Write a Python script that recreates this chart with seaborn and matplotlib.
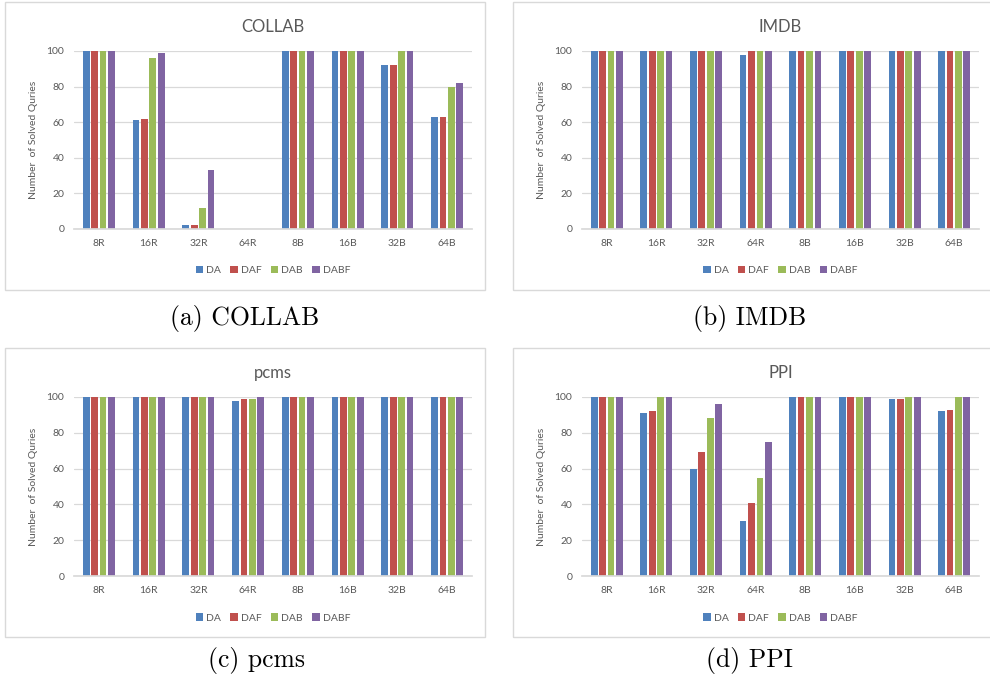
#!/usr/bin/env python3

import matplotlib
matplotlib.use("Agg")
import matplotlib.pyplot as plt
from matplotlib.patches import Rectangle
import pandas as pd
import seaborn as sns


CONFIGS = ["8R", "16R", "32R", "64R", "8B", "16B", "32B", "64B"]
METHODS = ["DA", "DAF", "DAB", "DABF"]
COLORS = ["#4F81BD", "#C0504D", "#9BBB59", "#8064A2"]

# one row per method (DA, DAF, DAB, DABF), one column per config
COLLAB = [
    [100, 61, 2, 0, 100, 100, 92, 63],
    [100, 62, 2, 0, 100, 100, 92, 63],
    [100, 96, 12, 0, 100, 100, 100, 80],
    [100, 99, 33, 0, 100, 100, 100, 82],
]
IMDB = [
    [100, 100, 100, 98, 100, 100, 100, 100],
    [100, 100, 100, 100, 100, 100, 100, 100],
    [100, 100, 100, 100, 100, 100, 100, 100],
    [100, 100, 100, 100, 100, 100, 100, 100],
]
PCMS = [
    [100, 100, 100, 98, 100, 100, 100, 100],
    [100, 100, 100, 99, 100, 100, 100, 100],
    [100, 100, 100, 99, 100, 100, 100, 100],
    [100, 100, 100, 100, 100, 100, 100, 100],
]
PPI = [
    [100, 91, 60, 31, 100, 100, 99, 92],
    [100, 92, 69, 41, 100, 100, 99, 93],
    [100, 100, 88, 55, 100, 100, 100, 100],
    [100, 100, 96, 75, 100, 100, 100, 100],
]

PANELS = [
    ("COLLAB", "(a) COLLAB", COLLAB),
    ("IMDB", "(b) IMDB", IMDB),
    ("pcms", "(c) pcms", PCMS),
    ("PPI", "(d) PPI", PPI),
]

TEXT_GRAY = "#595959"
GRID_GRAY = "#D9D9D9"

W, H = 990, 680


def to_frame(rows):
    records = []
    for method, vals in zip(METHODS, rows):
        for cfg, v in zip(CONFIGS, vals):
            records.append({"config": cfg, "method": method, "value": v})
    return pd.DataFrame(records)


def px_axes(fig, left, top, right, bottom):
    return fig.add_axes([left / W, 1 - bottom / H, (right - left) / W, (bottom - top) / H])


def draw_panel(fig, ax, title, rows):
    df = to_frame(rows)
    sns.barplot(
        data=df, x="config", y="value", hue="method",
        order=CONFIGS, hue_order=METHODS, palette=COLORS, saturation=1,
        width=0.68, gap=0.2, linewidth=0, ax=ax,
    )
    ax.set_ylim(0, 100)
    ax.set_yticks(range(0, 101, 20))
    ax.grid(axis="y", color=GRID_GRAY, linewidth=0.9)
    ax.set_axisbelow(True)
    for side in ["top", "right", "left"]:
        ax.spines[side].set_visible(False)
    ax.spines["bottom"].set_color(GRID_GRAY)
    ax.tick_params(length=0, labelsize=7.5, colors=TEXT_GRAY, pad=7)
    ax.set_xlabel("")
    ax.set_ylabel("Number  of Solved Quries", fontsize=7.5, color=TEXT_GRAY, labelpad=6)
    ax.set_title(title, fontsize=12, color=TEXT_GRAY, pad=14)
    handles, labels = ax.get_legend_handles_labels()
    ax.legend(
        handles, labels, loc="center", bbox_to_anchor=(0.5, -0.235), ncol=4,
        frameon=False, fontsize=7.5, labelcolor=TEXT_GRAY,
        handlelength=0.7, handleheight=0.7, handletextpad=0.3, columnspacing=0.9,
    )


def main():
    sns.set_theme(style="white")
    plt.rcParams["font.family"] = ["Lato", "DejaVu Sans"]

    fig = plt.figure(figsize=(W / 100, H / 100), dpi=100)

    # chart frames and plot areas in pixel coordinates
    frames = [(5, 2, 485, 290), (513, 2, 995, 290), (5, 348, 485, 637), (513, 348, 995, 637)]
    areas = [(74, 51, 472, 229), (582, 51, 979, 229), (74, 397, 472, 576), (582, 397, 979, 576)]
    captions = [(245, 318), (750, 318), (257, 660), (750, 660)]

    for (title, caption, rows), frame, area, cap in zip(PANELS, frames, areas, captions):
        x0, y0, x1, y1 = frame
        fig.add_artist(Rectangle(
            (x0 / W, 1 - y1 / H), (x1 - x0) / W, (y1 - y0) / H,
            transform=fig.transFigure, fill=False, edgecolor=GRID_GRAY, linewidth=1,
        ))
        ax = px_axes(fig, *area)
        draw_panel(fig, ax, title, rows)
        fig.text(cap[0] / W, 1 - cap[1] / H, caption, family="cmr10",
                 fontsize=18.5, ha="center", va="center", color="black")

    fig.savefig("out.png", dpi=100)
    plt.close(fig)


if __name__ == "__main__":
    main()
